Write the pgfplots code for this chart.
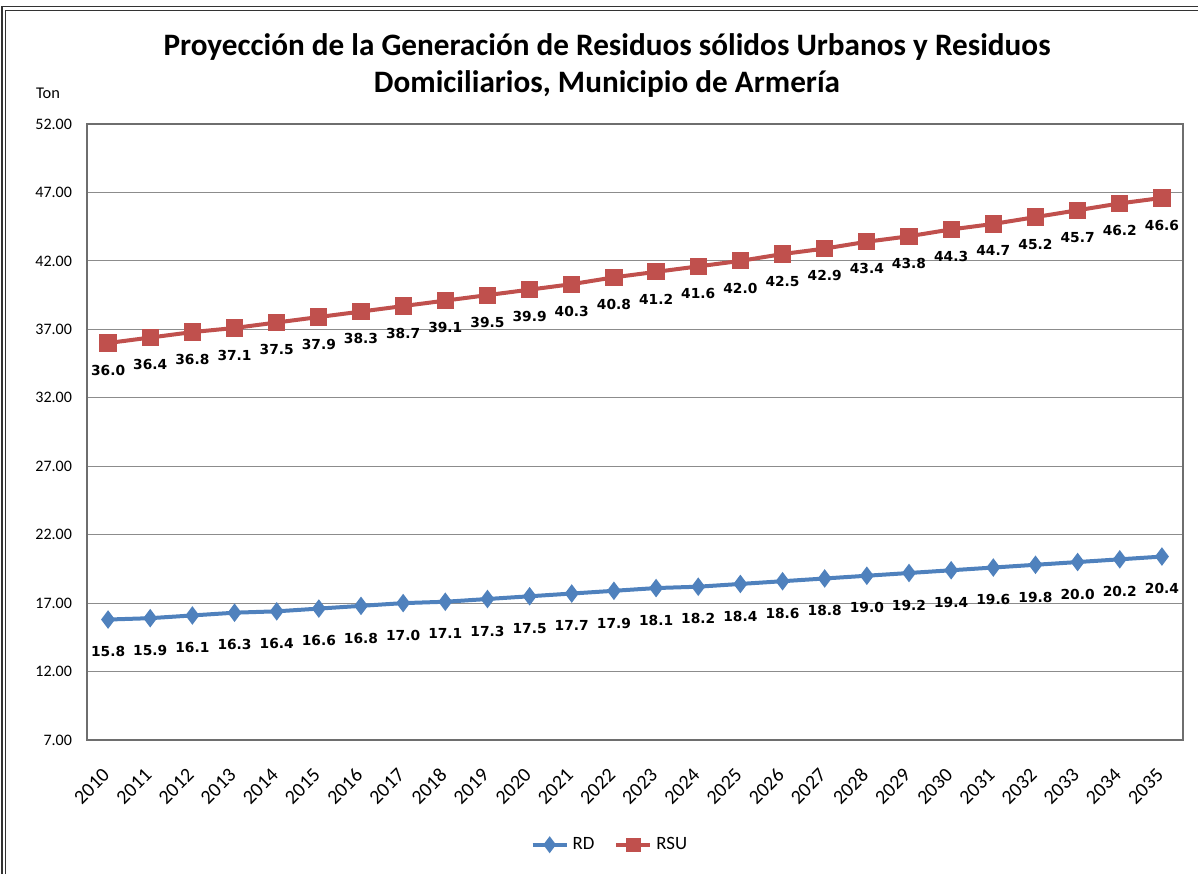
\documentclass[border=0pt]{standalone}
\usepackage{pgfplots}
\pgfplotsset{compat=1.18}
\usepackage{fontspec}
\setmainfont{Carlito}
\newfontfamily\lblfont{DejaVu Sans}
\definecolor{rdblue}{HTML}{4F81BD}
\definecolor{rsured}{HTML}{C0504D}
\definecolor{gridgray}{HTML}{8C8C8C}
\definecolor{axgray}{HTML}{6E6E6E}
\pgfplotstableread{
x RD RSU
0 15.8 36.0
1 15.9 36.4
2 16.1 36.8
3 16.3 37.1
4 16.4 37.5
5 16.6 37.9
6 16.8 38.3
7 17.0 38.7
8 17.1 39.1
9 17.3 39.5
10 17.5 39.9
11 17.7 40.3
12 17.9 40.8
13 18.1 41.2
14 18.2 41.6
15 18.4 42.0
16 18.6 42.5
17 18.8 42.9
18 19.0 43.4
19 19.2 43.8
20 19.4 44.3
21 19.6 44.7
22 19.8 45.2
23 20.0 45.7
24 20.2 46.2
25 20.4 46.6
}\datatable
\begin{document}
\begin{tikzpicture}
\useasboundingbox (0,0) rectangle (599pt,437pt);
% outer frame
\draw[line width=0.8pt, black!80] (1pt,0) -- (1pt,433.8pt) -- (599pt,433.8pt);
\draw[line width=0.4pt, black!80] (2.5pt,0) -- (2.5pt,432pt) -- (599pt,432pt);
% title
\node[font=\fontsize{15.6}{18}\selectfont\bfseries, align=center] at (303.5pt,413.5pt) {Proyección de la Generación de Residuos sólidos Urbanos y Residuos};
\node[font=\fontsize{15.6}{18}\selectfont\bfseries, align=center] at (303.5pt,395pt) {Domiciliarios, Municipio de Armería};
\node[font=\fontsize{8.2}{10}\selectfont] at (24pt,390.5pt) {Ton};
\begin{axis}[
  at={(43.5pt,67pt)}, anchor=south west,
  scale only axis, width=548pt, height=308pt,
  xmin=-0.5, xmax=25.5, ymin=7, ymax=52,
  xtick={0,...,25},
  xticklabel={\pgfmathtruncatemacro\yr{2010+\tick}\yr},
  ytick={7,12,...,52},
  yticklabel style={/pgf/number format/fixed, /pgf/number format/fixed zerofill, /pgf/number format/precision=2},
  yticklabel style={font=\fontsize{8}{9}\selectfont, xshift=-4pt},
  xticklabel style={xshift=1.5pt, yshift=-1.5pt, font=\fontsize{10}{11}\selectfont, rotate=45, anchor=east},
  xticklabel shift=12pt,
  /pgf/number format/assume math mode=true,
  major tick length=0pt,
  ymajorgrids, grid style={gridgray, line width=0.5pt},
  axis line style={axgray, line width=0.8pt},
  legend style={at={(0.478,-0.17)}, anchor=center, draw=none, legend columns=2,
    font=\fontsize{9.4}{10}\selectfont, /tikz/every even column/.append style={column sep=8pt}},
  legend image code/.code={\draw[#1] (0pt,0pt) -- (17pt,0pt); \draw[#1, only marks, mark size=2.6pt] plot coordinates {(8.5pt,0pt)};},
  nodes near coords,
  nodes near coords style={font=\fontsize{6.9}{8}\selectfont\lblfont\bfseries, black, anchor=north, inner sep=0pt,
    /pgf/number format/fixed, /pgf/number format/fixed zerofill, /pgf/number format/precision=1},
  clip=false,
]
\addplot[rdblue, line width=2pt, mark=diamond*, mark size=3pt, mark options={solid, fill=rdblue},
  nodes near coords style={yshift=-12.5pt}] table[x=x, y=RD] {\datatable};
\addlegendentry{RD}
\addplot[rsured, line width=2pt, mark=square*, mark size=3.3pt, mark options={solid, fill=rsured},
  nodes near coords style={yshift=-10pt}] table[x=x, y=RSU] {\datatable};
\addlegendentry{RSU}
\end{axis}
\end{tikzpicture}
\end{document}
